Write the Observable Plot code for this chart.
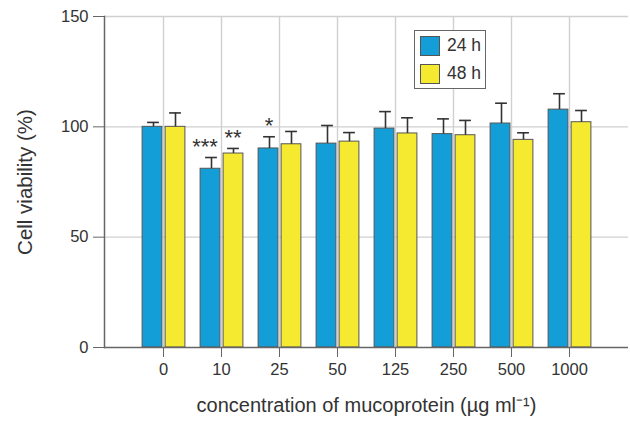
<!DOCTYPE html>
<html><head><meta charset="utf-8">
<script src="https://cdn.jsdelivr.net/npm/d3@7"></script>
<script src="https://cdn.jsdelivr.net/npm/@observablehq/plot@0.6"></script>
<style>
body{margin:0;background:#fff;font-family:"Liberation Sans",Arial,sans-serif;}
#wrap{position:relative;width:630px;height:424px;}
#legend{position:absolute;left:414px;top:30px;width:72px;height:59px;border:1px solid #666;background:#fff;box-sizing:border-box;}
.item{position:absolute;left:5px;display:flex;align-items:center;font-size:17.5px;color:#333;}
.sw{width:20px;height:20px;border:1px solid #555;margin-right:7px;box-sizing:border-box;}
</style></head><body>
<div id="wrap"><div id="legend">
<div class="item" style="top:4px"><div class="sw" style="background:#139ed8"></div>24 h</div>
<div class="item" style="top:32px"><div class="sw" style="background:#f5ea2f"></div>48 h</div>
</div></div>
<script>
const categories = ["0","10","25","50","125","250","500","1000"];
const mean24 = [100, 81.0, 90.2, 92.4, 99.2, 96.7, 101.5, 107.8];
const err24  = [2.0, 5.1, 5.3, 8.2, 7.7, 6.9, 9.2, 7.2];
const mean48 = [100, 87.9, 92.1, 93.3, 97.0, 96.2, 94.1, 102.1];
const err48  = [6.3, 2.3, 5.8, 4.1, 7.1, 6.7, 3.2, 5.3];
const sig24  = ["", "***", "*", "", "", "", "", ""];
const sig48  = ["", "**", "", "", "", "", "", ""];
const yTicks = [0, 50, 100, 150];

const d24 = categories.map((c,i)=>({c, v:mean24[i], t:mean24[i]+err24[i], s:sig24[i]}));
const d48 = categories.map((c,i)=>({c, v:mean48[i], t:mean48[i]+err48[i], s:sig48[i]}));

const blue="#139ed8", yellow="#f5ea2f", edge="#555", ink="#333";
const starOpts = {x:"c", y:"t", text:"s", lineAnchor:"middle", dy:-11, fontSize:22, fill:ink};
const chart = Plot.plot({
  width:630, height:424,
  marginLeft:104, marginRight:2, marginTop:16, marginBottom:77,
  style:{fontFamily:"'Liberation Sans', Arial, sans-serif", color:ink, background:"transparent"},
  x:{type:"band", domain:categories, paddingInner:0, paddingOuter:0.5},
  y:{domain:[0,150]},
  marks:[
    Plot.gridX(categories,{stroke:"#d0d0d0", strokeOpacity:1, strokeWidth:1.4}),
    Plot.gridY([50,100,150],{stroke:"#d0d0d0", strokeOpacity:1, strokeWidth:1.4}),
    Plot.barY(d24,{x:"c", y:"v", fill:blue, stroke:edge, strokeWidth:1, insetLeft:8.1, insetRight:30.1}),
    Plot.barY(d48,{x:"c", y:"v", fill:yellow, stroke:edge, strokeWidth:1, insetLeft:31.1, insetRight:7.1}),
    Plot.ruleX(d24,{x:"c", y1:"v", y2:"t", dx:-10, stroke:ink, strokeWidth:1.6}),
    Plot.ruleX(d48,{x:"c", y1:"v", y2:"t", dx:12, stroke:ink, strokeWidth:1.6}),
    Plot.tickY(d24,{x:"c", y:"t", dx:-10, insetLeft:23.1, insetRight:23.1, stroke:ink, strokeWidth:1.6}),
    Plot.tickY(d48,{x:"c", y:"t", dx:12, insetLeft:23.1, insetRight:23.1, stroke:ink, strokeWidth:1.6}),
    Plot.text(d24,{...starOpts, filter:d=>d.s==="***", dx:-16.5}),
    Plot.text(d24,{...starOpts, filter:d=>d.s==="*", dx:-10.5}),
    Plot.text(d48,{...starOpts, filter:d=>d.s!=="", dx:11.5}),
    Plot.ruleY([0],{stroke:"#666", strokeWidth:1.5}),
    Plot.frame({anchor:"left", stroke:"#666", strokeWidth:1.5}),
    Plot.axisY(yTicks,{tickSize:11, tickPadding:5, fontSize:16.5, label:null, stroke:"#666", fill:ink}),
    Plot.axisX({tickSize:10, tickPadding:6, fontSize:16.5, label:null, stroke:"#666", fill:ink}),
    Plot.text(["Cell viability (%)"],{frameAnchor:"left", textAnchor:"middle", dx:-79, rotate:-90, fontSize:20.5, fill:ink}),
    Plot.text(["concentration of mucoprotein (µg ml⁻¹)"],{frameAnchor:"bottom", dy:64, fontSize:20, fill:ink})
  ]
});
document.getElementById("wrap").prepend(chart);
</script></body></html>
